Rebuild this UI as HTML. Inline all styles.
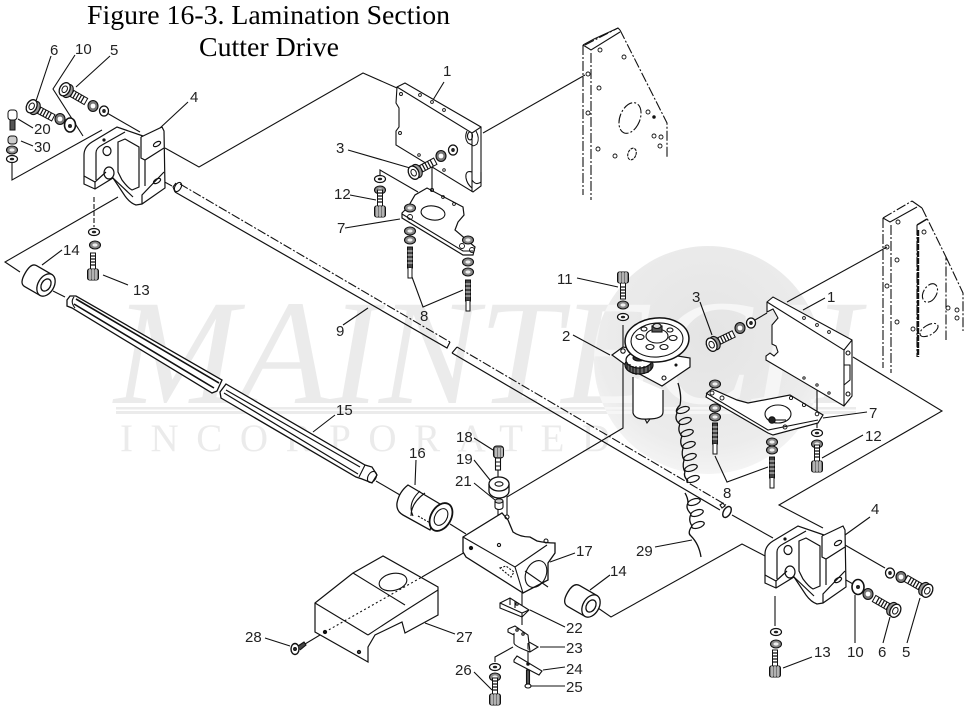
<!DOCTYPE html>
<html><head><meta charset="utf-8"><title>Figure 16-3. Lamination Section Cutter Drive</title>
<style>
html,body{margin:0;padding:0;background:#fff;width:977px;height:719px;overflow:hidden}
svg{display:block}
.l{font:15px "Liberation Sans",sans-serif;fill:#222}
.t{font:27px "Liberation Serif",serif;fill:#000}
</style></head><body>
<svg width="977" height="719" viewBox="0 0 977 719" xmlns="http://www.w3.org/2000/svg">
<defs>
<radialGradient id="gr" cx="50%" cy="40%" r="60%"><stop offset="0" stop-color="#e4e4e4"/><stop offset="0.8" stop-color="#ececec"/><stop offset="1" stop-color="#f4f4f4"/></radialGradient>
<clipPath id="cc"><circle cx="708" cy="360" r="114"/></clipPath>
<g id="wm"><text x="114" y="403" font-family="Liberation Serif,serif" font-style="italic" font-size="150" textLength="746" lengthAdjust="spacingAndGlyphs">MAINTECH</text>
<rect x="116" y="407" width="740" height="2.5"/><rect x="116" y="411" width="740" height="3"/>
<text x="120" y="451" font-family="Liberation Serif,serif" font-size="39" textLength="490" lengthAdjust="spacing">INCORPORATED</text></g>
<g id="washer"><ellipse rx="4.5" ry="5" fill="#fff" stroke="#111" stroke-width="1.3"/><ellipse rx="1.8" ry="2" fill="#222"/></g>
<g id="nut"><ellipse rx="5" ry="5.5" fill="#777" stroke="#111" stroke-width="1.1"/><ellipse rx="2.4" ry="2.4" fill="#fff"/></g>
<g id="vwasher"><ellipse rx="5.500" ry="3.500" fill="#fff" stroke="#111" stroke-width="1.2"/><ellipse rx="2.200" ry="1.300" fill="#222"/></g>
<g id="vnut"><ellipse rx="5.500" ry="4" fill="#888" stroke="#111" stroke-width="1.1"/><ellipse rx="2.600" ry="1.600" fill="#eee"/></g>
<g id="hbolt">
<rect x="3" y="-3.5" width="20" height="7" fill="#fff" stroke="#111"/>
<path d="M7,-3.5V3.5M10,-3.5V3.5M13,-3.5V3.5M16,-3.5V3.5M19,-3.5V3.5" stroke="#111" stroke-width="1.2"/>
<ellipse cx="2" cy="0" rx="5" ry="7" fill="#999" stroke="#111" stroke-width="1.1"/>
<ellipse cx="-1.5" cy="0" rx="5" ry="7" fill="#fff" stroke="#111" stroke-width="1.3"/>
<ellipse cx="-1.5" cy="0" rx="2.500" ry="3.500" fill="#fff" stroke="#111"/></g>
<g id="vbolt">
<rect x="-2.5" y="-22" width="5" height="16" fill="#fff" stroke="#111"/>
<path d="M-2.5,-19H2.5M-2.5,-16H2.5M-2.5,-13H2.5M-2.5,-10H2.5" stroke="#111" stroke-width="1.2"/>
<rect x="-5.5" y="-6" width="11" height="11" rx="2" fill="#777" stroke="#111"/>
<path d="M-3,-6V5M0,-6V5M3,-6V5" stroke="#eee" stroke-width="1"/>
</g>
<g id="stud"><rect x="-2.5" y="0" width="5" height="21" fill="#444" stroke="#111"/><path d="M-2.5,4H2.5M-2.5,8H2.5M-2.5,12H2.5M-2.5,16H2.5" stroke="#ddd"/><path d="M-2,21V31H2V21" fill="#fff" stroke="#111"/></g>
<g id="coil"><ellipse rx="6.500" ry="3" transform="rotate(-18)" fill="none" stroke="#111" stroke-width="1.2"/></g>
<g id="bracket" fill="none" stroke="#111" stroke-width="1.2">
<path d="M141,137L162,127L164,131L165,188L142,204L136,205Q130,203 125,196L113,178L95,189L84,184V155Q84,147 92,142L117,127L143,136" fill="#fff"/>
<path d="M84,176L95,182L106,172"/>
<path d="M95,182V189"/>
<path d="M96,180V153Q96,148 102,145L125,132"/>
<path d="M118,142L125,139L139,147V187L132,190Q128,188 122,180L118,172Z"/>
<path d="M141,137V158L145,160L164,148M145,160V186M142,204V195L164,172"/>
<ellipse cx="107" cy="151" rx="4" ry="4.5"/>
<ellipse cx="109" cy="173" rx="5" ry="6"/>
<path d="M113,178L133,197"/>
<ellipse cx="157" cy="144" rx="4" ry="2" transform="rotate(-30 157 144)"/>
<ellipse cx="157" cy="181" rx="4" ry="2" transform="rotate(-30 157 181)"/>
<circle cx="104" cy="140" r="1" fill="#111"/>
</g>
</defs>
<rect width="977" height="719" fill="#fff"/>

<!-- watermark -->
<use href="#wm" fill="#ebebeb"/>
<circle cx="708" cy="360" r="114" fill="url(#gr)"/>
<g clip-path="url(#cc)"><use href="#wm" fill="#f6f6f6"/></g>

<!-- title -->
<text class="t" x="87" y="24" textLength="363" lengthAdjust="spacingAndGlyphs">Figure 16-3. Lamination Section</text>
<text class="t" x="199" y="56" textLength="140" lengthAdjust="spacingAndGlyphs">Cutter Drive</text>

<g fill="none" stroke="#111" stroke-width="1.1">
<!-- connector lines -->
<polyline points="165,148 199,167 363,73 397,88"/>
<polyline points="483,133 585,75"/>
<polyline points="12,163 12,180 102,130"/>
<polyline points="118,197 5,262 20,272"/>
<polyline points="75,55 53,89 83,136"/>
<polyline points="107,113 140,132"/>
<polyline points="110,152 172,186"/>
<polyline points="732,515 773,538"/>
<polyline points="790,548 853,584"/>
<polyline points="845,545 885,568"/>
<polyline points="787,302 887,247"/>
<polyline points="853,357 942,411 779,505 823,528"/>
<polyline points="767,557 742,544 611,617 598,608"/>
<polyline points="507,515 507,497 623,428 623,325"/>
<polyline points="53,291 65,297"/>
<polyline points="376,481 400,495"/>
<polyline points="450,524 466,534"/>
<polyline points="422,577 472,548"/>
<polyline points="380,178 380,170 418,192"/>
<polyline points="432,165 432,190"/>
<polyline points="458,147 470,138"/>
<polyline points="755,320 767,313"/>
<polyline points="817,383 817,428"/>
<polyline points="94,197 94,227" stroke-dasharray="5 2"/>
<polyline points="775,596 775,626"/>
<polyline points="305,644 325,632"/>
<polyline points="498,470 498,545"/>
<polyline points="522,593 522,625"/>
<polyline points="528,643 528,668"/>
<polyline points="513,647 495,657 495,662"/>

<!-- leaders -->
<path d="M51,56L36,101M110,56L76,87M18,119L33,128M21,141L33,146M160,128L188,102M42,265L62,250M103,275L128,285M444,82L433,100M348,150L410,168M350,195L376,200M345,228L400,219M412,277L423,307L463,290M343,325L368,308"/>
<path d="M335,415L313,432M416,460L415,485M474,438L493,450M474,460L490,480M474,483L495,500M265,638L290,646M425,623L455,634M474,672L492,690M575,553L550,562M565,627L530,610M540,647L565,647M543,670L565,667M530,686L565,686M610,575L590,590"/>
<path d="M577,278L618,287M573,335L610,355M700,302L712,335M803,310L825,298M823,418L867,412M822,458L863,435M715,456L727,482L768,467M655,547L692,540"/>
<path d="M845,535L870,517M920,598L907,643M890,617L883,643M855,595L855,643M783,668L812,657"/>

<!-- shaft 9 -->
<path d="M175,192L447,348L450,342M452,353L457,347M452,353L720,510" stroke-width="1.2"/>
<path d="M180,184L450,342M457,347L726,505" stroke-dasharray="9 2 2 2"/>
<ellipse cx="178" cy="187" rx="3" ry="5" transform="rotate(30 178 187)"/>
<path d="M176,183L173,187L175,192"/>
<ellipse cx="727" cy="512" rx="3.5" ry="6" transform="rotate(30 727 512)" fill="#fff" stroke-width="1.4"/>
<path d="M720,505l3,-2 2,3 -3,2z"/>

<!-- panels -->
<g stroke-dasharray="10 2 2 2">
<path d="M583,45V195M591,53V200M620,30L667,123V158"/>
<path d="M585,45L618,28"/>
<ellipse cx="630" cy="118" rx="10" ry="16" transform="rotate(22 630 118)"/>
<path d="M883,218V368M891,225V373M917,225V357M922,208L946,257V340M946,257L963,293V331M883,218L912,201"/>
<ellipse cx="930" cy="293" rx="6.5" ry="10" transform="rotate(30 930 293)"/>
<ellipse cx="929" cy="330" rx="10" ry="5" transform="rotate(-30 929 330)"/>
</g>
<path d="M583,45L594,39L618,28L620,30M583,45L591,50L620,32M912,201L922,208M883,218L890,222L917,207"/>
<path d="M918,230V357" stroke-width="2.4" stroke-dasharray="6 1"/>
<path d="M917,225L927,219" stroke-width="1.6"/>
<ellipse cx="632" cy="154" rx="4" ry="6" transform="rotate(20 632 154)" stroke-dasharray="3 1"/>
<g stroke-width="0.9">
<circle cx="600" cy="50" r="2"/><circle cx="624" cy="57" r="2"/><circle cx="599" cy="88" r="2"/><circle cx="588" cy="74" r="2"/><circle cx="588" cy="113" r="2"/><circle cx="598" cy="149" r="2"/><circle cx="615" cy="156" r="2"/><circle cx="648" cy="112" r="2"/><circle cx="654" cy="136" r="2"/><circle cx="661" cy="137" r="2"/><circle cx="660" cy="146" r="2"/>
<circle cx="898" cy="222" r="2"/><circle cx="897" cy="260" r="2"/><circle cx="887" cy="247" r="2"/><circle cx="887" cy="286" r="2"/><circle cx="897" cy="322" r="2"/><circle cx="924" cy="232" r="2"/><circle cx="913" cy="329" r="2"/><circle cx="957" cy="310" r="2"/><circle cx="957" cy="318" r="2"/><circle cx="948" cy="308" r="2"/>
</g>
<circle cx="654" cy="117" r="1.2" fill="#111"/>

<!-- plate 1 left -->
<path d="M397,87L405,83L481,127V186L473,192L396,145V131L399,127V108L396,103Z" fill="#fff"/>
<path d="M397,87L472,133V192M472,133L481,127"/>
<path d="M467,131Q464,138 468,143L472,145M476,131Q480,138 477,144Q473,147 472,145" stroke-width="1"/>
<ellipse cx="470" cy="136" rx="2.500" ry="4"/>
<path d="M481,172V182Q476,186 472,180M472,172Q465,170 466,178Q467,184 472,188"/>
<g stroke-width="0.9"><circle cx="420" cy="95" r="1.4"/><circle cx="432" cy="102" r="1.4"/><circle cx="444" cy="110" r="1.4"/><circle cx="401" cy="94" r="1.5"/><circle cx="400" cy="133" r="1.5"/><circle cx="419" cy="155" r="1.3"/><circle cx="444" cy="170" r="1.3"/></g>

<!-- plate 1 right -->
<path d="M767,302L773,297L852,340V396L844,406L766,360V356L770,353L774,356L778,352L776,346L772,344V325L778,318L773,309L767,312Z" fill="#fff"/>
<path d="M767,302L844,350V406M844,350L852,340M844,365L850,365V380L844,385"/>
<circle cx="848" cy="353" r="2"/><circle cx="848" cy="394" r="2"/>
<g stroke-width="0.9"><circle cx="804" cy="318" r="1.4"/><circle cx="817" cy="325" r="1.4"/><circle cx="829" cy="332" r="1.4"/><circle cx="804" cy="378" r="1.2"/><circle cx="817" cy="385" r="1.2"/><circle cx="829" cy="393" r="1.2"/></g>

<!-- plate 7 left -->
<path d="M402,213L408,207L415,195L427,188L463,207L464,215L458,222L455,230L475,247L473,255H463L402,218Z" fill="#fff" stroke-width="1.2"/>
<path d="M402,214L463,251L473,251"/>
<ellipse cx="433" cy="213" rx="12" ry="7" transform="rotate(8 433 213)"/>
<g stroke-width="0.9"><circle cx="432" cy="190" r="1.6"/><circle cx="443" cy="197" r="1.4"/><circle cx="454" cy="204" r="1.4"/><circle cx="410" cy="217" r="2.5"/><circle cx="462" cy="246" r="2.5"/><circle cx="472" cy="250" r="2.5"/></g>

<!-- plate 7 right -->
<path d="M706,397L707,393L712,389L737,400L748,403L790,395L823,415L818,423L773,435L768,433Z" fill="#fff" stroke-width="1.2"/>
<path d="M706,393L768,430L818,420"/>
<ellipse cx="778" cy="414" rx="13" ry="9"/><path d="M770,420L786,420"/>
<circle cx="772" cy="420" r="3.2" fill="#222"/>
<g stroke-width="0.9"><circle cx="712" cy="393" r="2"/><circle cx="722" cy="398" r="2"/><circle cx="785" cy="427" r="2"/><circle cx="791" cy="398" r="1.6"/><circle cx="804" cy="405" r="1.6"/><circle cx="817" cy="414" r="1.8"/></g>

<!-- roller 14 left -->
<g transform="translate(46,285) rotate(30)" stroke-width="1.3">
<path d="M0,-12H-18Q-24,-12 -24,0Q-24,12 -18,12H0Z" fill="#fff"/>
<ellipse rx="8" ry="12" fill="#fff"/><ellipse rx="4.500" ry="6.500"/>
</g>
<!-- roller 14 right -->
<g transform="translate(591,606) rotate(30)" stroke-width="1.3">
<path d="M0,-12H-20Q-27,-12 -27,0Q-27,12 -20,12H0Z" fill="#fff"/>
<ellipse rx="8" ry="12" fill="#fff"/><ellipse rx="4.500" ry="6.500"/>
</g>

<!-- shaft 15 -->
<path d="M67,300L70,296L76,296L222,380L217,391L212,393L72,308L67,306Z" fill="#fff" stroke-width="1.3"/>
<path d="M74,297Q70,302 75,308"/>
<path d="M76,299L219,383M74,304L214,388" stroke-width="1.6"/>
<path d="M226,384L365,465L372,467L377,475L372,483L362,479L356,477L221,398L220,392Z" fill="#fff" stroke-width="1.3"/>
<path d="M226,390L360,467M224,393L358,474" stroke-width="1.2"/>
<path d="M365,465L359,477"/>
<ellipse cx="372" cy="477" rx="4" ry="6" transform="rotate(30 372 477)"/>

<!-- sleeve 16 -->
<path d="M408,485L440,504L430,530L403,515Q396,511 397,503Q399,492 408,485Z" fill="#fff" stroke-width="1.3"/>
<path d="M425,493Q411,503 411,516M420,491Q407,503 413,516" />
<path d="M418,516L432,524" stroke-dasharray="2 1.5"/>
<ellipse cx="441" cy="517" rx="10" ry="15" transform="rotate(30 441 517)" fill="#fff" stroke-width="1.8"/>
<ellipse cx="441" cy="517" rx="6" ry="9" transform="rotate(30 441 517)"/>

<!-- block 17 -->
<path d="M463,537L502,513L508,520L513,532Q520,537 530,537L537,541Q546,543 555,543V553L548,563V580L523,593L466,557L463,552Z" fill="#fff" stroke-width="1.3"/>
<path d="M463,537L515,567L547,545"/>
<path d="M515,567L523,593"/>
<ellipse cx="536" cy="574" rx="10" ry="14" transform="rotate(25 536 574)"/>
<path d="M525,571L548,587"/>
<path d="M500,568l6,-2 8,6 -3,5z" stroke-dasharray="2 1.5"/>
<circle cx="499" cy="545" r="1.6"/><circle cx="471" cy="548" r="1.6" fill="#111"/><circle cx="507" cy="517" r="2"/><circle cx="546" cy="541" r="2"/>

<!-- cover 27 -->
<path d="M315,603L353,573L383,556L438,587V615L405,633L402,622L375,635L368,647V662L315,632Z" fill="#fff" stroke-width="1.2"/>
<path d="M315,603L368,635M368,635Q395,617 438,590M353,573L405,605"/>
<ellipse cx="393" cy="582" rx="14" ry="8.5" transform="rotate(-12 393 582)" fill="#fff"/>
<path d="M325,632L422,577" stroke-dasharray="2 2.5"/>
<circle cx="325" cy="632" r="1.6" fill="#111"/><circle cx="359" cy="652" r="1.6" fill="#444"/>
<!-- screw 28 -->
<ellipse cx="295" cy="649" rx="4" ry="5.5" fill="#fff" stroke-width="1.4"/><circle cx="295" cy="649" r="1.4" fill="#333"/>
<path d="M298,646L304,642L306,645L300,650" fill="#444"/>

<!-- 18 19 21 -->
<rect x="493.500" y="446" width="10" height="12" rx="3" fill="#777"/>
<path d="M496,448V457M499,448V457M502,448V457" stroke="#eee"/>
<rect x="495.500" y="458" width="5" height="12" fill="#fff"/><path d="M495.500,462H500.500M495.500,466H500.500"/>
<path d="M489,484V491A10,7 0 0 0 509,491V484" fill="#fff" stroke-width="1.3"/>
<ellipse cx="499" cy="484" rx="10" ry="7" fill="#fff" stroke-width="1.3"/><ellipse cx="499" cy="484" rx="4" ry="2.2"/>
<path d="M495,501V507A4,2.500 0 0 0 503,507V501" fill="#fff"/><ellipse cx="499" cy="501" rx="4" ry="2.200" fill="#ccc"/>

<!-- 22 23 24 25 -->
<path d="M500,603L510,598L529,610L522,617L500,608Z" fill="#fff"/><path d="M500,603L522,613L529,610M522,613V617M510,598V605M515,601V608"/>
<circle cx="517" cy="604" r="1.2"/>
<path d="M508,629L515,626L528,635L530,652L538,647L529,642M514,633V643Q514,646 530,652M508,629L508,632L514,635" fill="#fff"/>
<circle cx="517" cy="630" r="1.2"/><circle cx="523" cy="634" r="1.2"/>
<path d="M514,660L517,656L542,671L539,675L514,662Z" fill="#fff"/><circle cx="528" cy="664" r="1.2" fill="#111"/>
<rect x="526.500" y="670" width="3" height="14" fill="#555"/><ellipse cx="528" cy="686" rx="3" ry="2" fill="#fff"/>

<!-- motor 2 -->
<path d="M633,377V413Q635,420 648,419Q663,419 663,412V390" fill="#fff" stroke-width="1.2"/>
<path d="M645,419L647,423L650,419"/>
<path d="M612,355L623,347L690,358V367L662,386L634,371Z" fill="#fff" stroke-width="1.2"/>
<ellipse cx="639" cy="365" rx="14" ry="9" fill="#666" stroke-width="1.2"/>
<ellipse cx="639" cy="360" rx="13" ry="8" fill="#fff" stroke-width="1.3"/>
<path d="M627,362V370M630,364V372M633,366V374M636,366V375M640,366V375M644,366V374M648,365V373M651,362V370" stroke-width="1.1"/>
<ellipse cx="639" cy="358" rx="6" ry="3" fill="#333"/>
<ellipse cx="657" cy="340" rx="32" ry="22" transform="rotate(-5 657 340)" fill="#fff" stroke-width="1.5"/>
<ellipse cx="657" cy="340" rx="26" ry="17" transform="rotate(-5 657 340)"/>
<ellipse cx="657" cy="336" rx="11" ry="7" fill="#fff"/>
<ellipse cx="640" cy="337" rx="4" ry="2.500"/><ellipse cx="650" cy="347" rx="4" ry="2.500"/><ellipse cx="664" cy="347" rx="4" ry="2.500"/><ellipse cx="673" cy="338" rx="4" ry="2.500"/><ellipse cx="670" cy="330" rx="3" ry="2"/><ellipse cx="644" cy="329" rx="3" ry="2"/>
<rect x="652" y="326" width="10" height="6" fill="#555"/><ellipse cx="657" cy="326" rx="4" ry="2.500" fill="#ddd"/>
<circle cx="623" cy="351" r="2.2"/><circle cx="664" cy="378" r="2"/><circle cx="676" cy="365" r="1" fill="#111"/>

<!-- spring 29 -->
<path d="M678,383Q682,396 680,405Q675,410 677,413M677,413Q674,420 680,424M680,424Q677,431 682,436M682,436Q679,443 683,448M683,448Q681,455 684,460M684,460Q682,467 685,472M685,472Q683,476 688,481" stroke-width="1.3"/>
<path d="M685,493Q688,498 688,503M688,503Q685,508 691,514M691,514Q688,520 692,526M692,526Q687,533 691,536Q699,544 701,557" stroke-width="1.3"/>
</g>
<use href="#coil" x="683" y="410"/><use href="#coil" x="685" y="421"/><use href="#coil" x="687" y="433"/><use href="#coil" x="689" y="445"/><use href="#coil" x="690" y="457"/><use href="#coil" x="691" y="468"/><use href="#coil" x="693" y="479"/>
<use href="#coil" x="694" y="502"/><use href="#coil" x="697" y="513"/><use href="#coil" x="698" y="525"/>

<!-- fasteners -->
<use href="#hbolt" transform="translate(66,90) rotate(30)"/>
<use href="#nut" x="93" y="106"/><use href="#washer" x="104" y="111"/>
<use href="#hbolt" transform="translate(33,107) rotate(28)"/>
<use href="#nut" x="60" y="119"/>
<ellipse cx="70" cy="125" rx="5.5" ry="7" fill="#fff" stroke="#111" stroke-width="1.6"/><ellipse cx="70" cy="126" rx="2" ry="2" fill="#222"/>
<rect x="8" y="110" width="9" height="10" rx="3" fill="#fff" stroke="#111"/><rect x="10" y="120" width="5" height="10" fill="#555" stroke="#111"/>
<rect x="8" y="136" width="9" height="8" rx="3" fill="#ccc" stroke="#111"/>
<use href="#vnut" x="12" y="150"/><use href="#vwasher" x="12" y="159"/>
<use href="#vwasher" x="94" y="232"/><use href="#vnut" x="95" y="245"/>
<use href="#vbolt" x="93" y="275"/>
<use href="#vwasher" x="380" y="179"/><use href="#vnut" x="380" y="190"/><use href="#vbolt" x="380" y="212"/>
<use href="#hbolt" transform="translate(415,172) rotate(-28)"/><use href="#nut" x="441" y="156"/><use href="#washer" x="453" y="150"/>
<use href="#vnut" x="410" y="208"/><use href="#vnut" x="410" y="231"/><use href="#vnut" x="410" y="240"/><use href="#stud" x="410" y="247"/>
<use href="#vnut" x="468" y="240"/><use href="#vnut" x="468" y="262"/><use href="#vnut" x="468" y="272"/><use href="#stud" x="468" y="280"/>

<use href="#vbolt" transform="translate(623,277) scale(1,-1)"/>
<use href="#vnut" x="623" y="305"/><use href="#vwasher" x="623" y="317"/>
<use href="#hbolt" transform="translate(713,344) rotate(-26)"/><use href="#nut" x="740" y="328"/><use href="#washer" x="751" y="323"/>
<use href="#vnut" x="715" y="384"/><use href="#vnut" x="715" y="408"/><use href="#vnut" x="715" y="417"/><use href="#stud" x="715" y="423"/>
<use href="#vnut" x="772" y="442"/><use href="#vnut" x="772" y="450"/><use href="#stud" x="772" y="457"/>
<use href="#vwasher" x="817" y="433"/><use href="#vnut" x="817" y="444"/><use href="#vbolt" x="817" y="467"/>
<use href="#vwasher" x="495" y="667"/><use href="#vnut" x="495" y="677"/><use href="#vbolt" x="495" y="700"/>
<use href="#bracket"/>
<use href="#bracket" x="681" y="399"/>
<use href="#vwasher" x="776" y="632"/><use href="#vnut" x="776" y="644"/><use href="#vbolt" x="775" y="672"/>
<ellipse cx="858" cy="587" rx="6" ry="7.500" fill="#fff" stroke="#111" stroke-width="1.6"/><ellipse cx="858" cy="587" rx="2" ry="2" fill="#222"/>
<use href="#nut" x="868" y="594"/><use href="#hbolt" transform="translate(894,610) rotate(210)"/>
<use href="#washer" x="890" y="573"/><use href="#nut" x="901" y="577"/><use href="#hbolt" transform="translate(926,590) rotate(210)"/>

<!-- labels -->
<g class="l">
<text x="50" y="55">6</text><text x="75" y="54">10</text><text x="110" y="55">5</text>
<text x="34" y="134">20</text><text x="34" y="152">30</text>
<text x="190" y="102">4</text><text x="443" y="76">1</text><text x="336" y="153">3</text>
<text x="334" y="199">12</text><text x="337" y="233">7</text><text x="63" y="255">14</text>
<text x="133" y="295">13</text><text x="420" y="321">8</text><text x="336" y="336">9</text>
<text x="336" y="415">15</text><text x="409" y="458">16</text><text x="456" y="442">18</text><text x="456" y="464">19</text><text x="455" y="486">21</text>
<text x="245" y="642">28</text><text x="456" y="642">27</text><text x="455" y="675">26</text>
<text x="557" y="284">11</text><text x="562" y="341">2</text><text x="692" y="302">3</text><text x="827" y="302">1</text>
<text x="869" y="418">7</text><text x="865" y="441">12</text><text x="723" y="498">8</text>
<text x="871" y="514">4</text><text x="576" y="556">17</text><text x="636" y="556">29</text><text x="610" y="576">14</text>
<text x="566" y="633">22</text><text x="566" y="653">23</text><text x="566" y="674">24</text><text x="566" y="692">25</text>
<text x="814" y="657">13</text><text x="847" y="657">10</text><text x="878" y="657">6</text><text x="902" y="657">5</text>
</g>
</svg>
</body></html>
